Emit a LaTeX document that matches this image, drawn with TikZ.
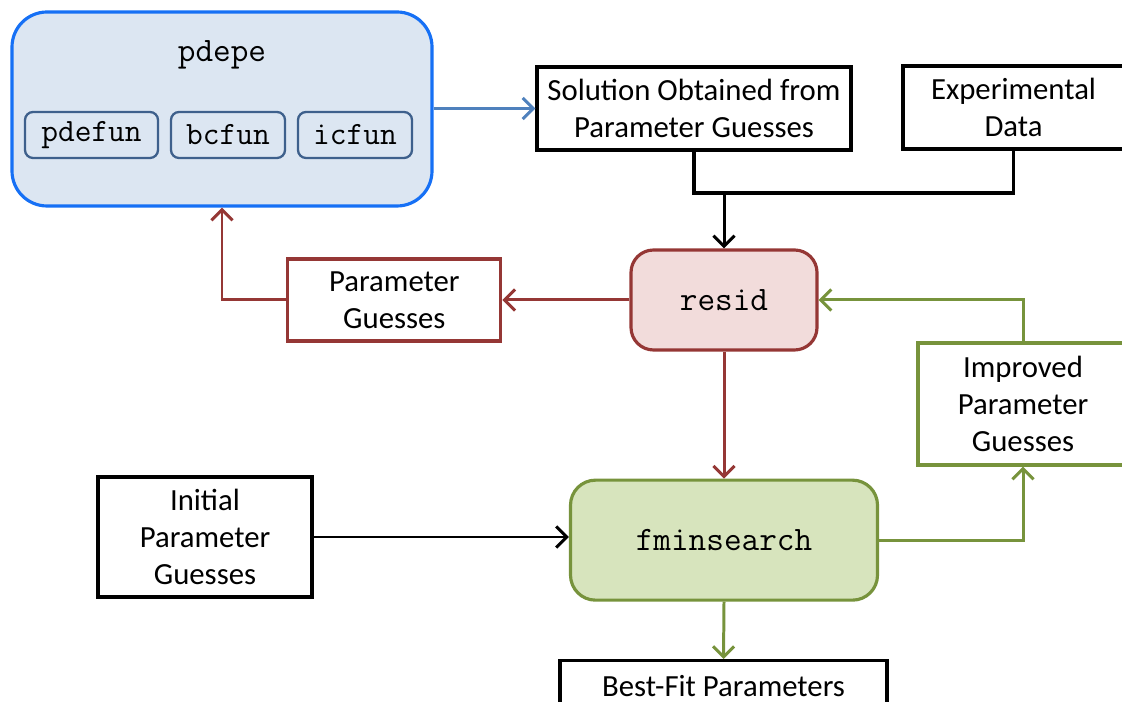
\documentclass[tikz,border=0pt]{standalone}
\usepackage{fontspec}
\setmainfont{Carlito}
\usepackage{xcolor}
\usepackage{tikz}
\usetikzlibrary{positioning}
\usetikzlibrary{arrows.meta}

\definecolor{pdeblue}{RGB}{22,112,245}
\definecolor{pdefill}{RGB}{220,230,242}
\definecolor{subblue}{RGB}{62,96,140}
\definecolor{linkblue}{RGB}{79,129,189}
\definecolor{resred}{RGB}{149,55,53}
\definecolor{resfill}{RGB}{242,220,219}
\definecolor{fmgreen}{RGB}{119,147,60}
\definecolor{fmfill}{RGB}{215,228,189}

\tikzset{
  plainbox/.style={draw,line width=1.8pt,align=center,font=\fontsize{17.5}{21}\selectfont},
  funbox/.style={draw,rounded corners=0.45cm,line width=1.8pt,font=\ttfamily\fontsize{19.5}{22}\selectfont},
  subfun/.style={draw=subblue,fill=pdefill,rounded corners=0.16cm,line width=1.3pt,
    minimum height=0.92cm,font=\ttfamily\fontsize{18.5}{20}\selectfont},
  flow/.style={-{Straight Barb[length=6pt,width=12pt]},line width=1.7pt}
}

\begin{document}
\begin{tikzpicture}[node distance=2.54cm]
\clip (0,0) rectangle (22.44,14.04);
\useasboundingbox (0,0) rectangle (22.44,14.04);

\node[funbox,draw=pdeblue,fill=pdefill,rounded corners=0.7cm,minimum width=8.4cm,minimum height=3.88cm]
      (pdepe) at (4.44,11.86) {};
\node[font=\ttfamily\fontsize{19.5}{22}\selectfont] (pdepetitle) at (4.44,12.94) {pdepe};
\node[subfun,minimum width=2.66cm] (pdefun) at (1.83,11.34) {pdefun};
\node[subfun,minimum width=2.28cm] (bcfun)  at (4.56,11.34) {bcfun};
\node[subfun,minimum width=2.28cm] (icfun)  at (7.10,11.34) {icfun};

\node[plainbox,minimum width=6.28cm,minimum height=1.66cm] (solution) at (13.88,11.87)
      {Solution Obtained from\\Parameter Guesses};
\node[plainbox,minimum width=4.42cm,minimum height=1.66cm] (expdata) at (20.27,11.89)
      {Experimental\\Data};

\node[funbox,draw=resred,fill=resfill,minimum width=3.72cm,minimum height=2cm] (resid) at (14.48,8.04) {resid};
\node[plainbox,draw=resred,minimum width=4.26cm,minimum height=1.64cm] (guesses) [left=of resid]
      {Parameter\\Guesses};

\node[funbox,draw=fmgreen,fill=fmfill,rounded corners=0.5cm,minimum width=6.14cm,minimum height=2.4cm]
      (fmin) [below=of resid] {fminsearch};
\node[plainbox,minimum width=4.28cm,minimum height=2.4cm] (initial) at (4.10,3.30)
      {Initial\\Parameter\\Guesses};
\node[plainbox,draw=fmgreen,minimum width=4.2cm,minimum height=2.44cm] (improved) at (20.46,5.96)
      {Improved\\Parameter\\Guesses};
\node[plainbox,minimum width=6.54cm,minimum height=1cm,anchor=north] (bestfit) at (14.47,0.86)
      {Best-Fit Parameters};

\coordinate (merge) at (14.48,10.18);

\draw[flow,linkblue] (pdepe.east |- solution.west) -- (solution.west);
\draw[line width=1.8pt] (solution.south) |- (merge) -| (expdata.south);
\draw[flow] (merge) -- (resid.north);
\draw[flow,resred] (resid.west) -- (guesses.east);
\draw[flow,resred] (guesses.west) -| (pdepe.south);
\draw[flow,resred] (resid.south) -- (fmin.north);
\draw[flow] (initial.east) -- (initial.east -| fmin.west);
\draw[flow,fmgreen] (fmin.east) -| (improved.south);
\draw[flow,fmgreen] (improved.north) |- (resid.east);
\draw[flow,fmgreen] (fmin.south) -- (bestfit.north);

\end{tikzpicture}
\end{document}
